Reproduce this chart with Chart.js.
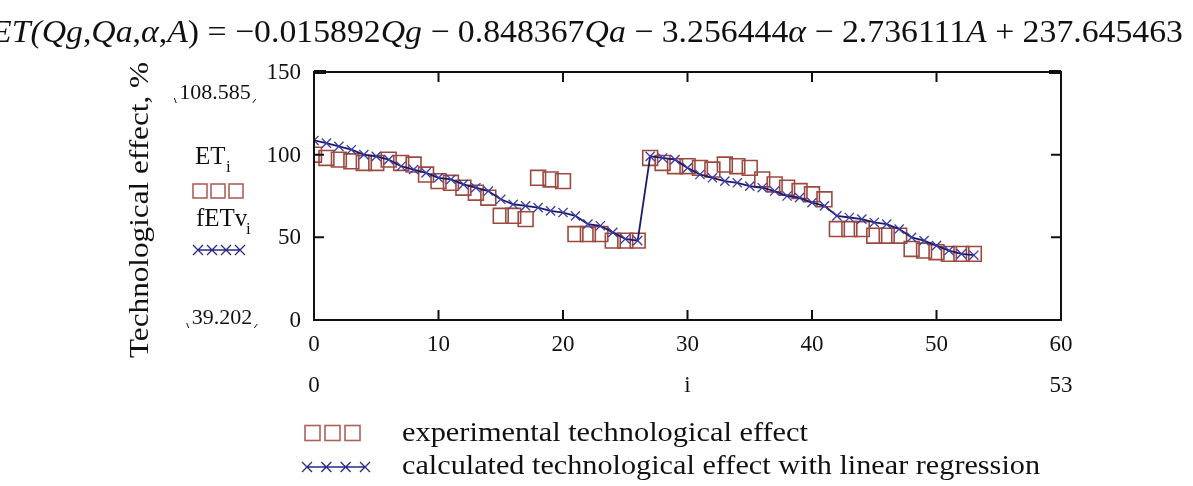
<!DOCTYPE html>
<html>
<head>
<meta charset="utf-8">
<script src="https://cdn.jsdelivr.net/npm/chart.js@4/dist/chart.umd.min.js"></script>
<style>
  html, body { margin: 0; padding: 0; background: #fff; }
  #wrap { position: relative; width: 1193px; height: 486px; }
</style>
</head>
<body>
<div id="wrap"><canvas id="chartET" width="1193" height="486"></canvas></div>
<script>
// index i = 0..53
const idx = [];
for (let i = 0; i <= 53; i++) idx.push(i);

// experimental technological effect (squares)
const etVals = [
  100, 98, 97, 96, 95, 95, 97, 95, 94, 88,
  84, 83, 80, 77, 74, 63, 63, 61, 86, 85,
  84, 52, 52, 52, 48, 48, 48, 98, 95, 93,
  93, 92, 91, 94, 93, 92, 85, 82, 80, 78,
  76, 73, 55, 55, 55, 51, 51, 51, 43, 42,
  41, 40, 40, 40
];

// calculated with linear regression (crosses + line)
const fetVals = [
  108.6, 107, 105, 103, 100, 99, 97, 93, 91, 89,
  86, 85, 82, 80, 78, 73, 70, 69, 68, 66,
  65, 63, 58, 57, 53, 49, 48, 99, 98, 97,
  92, 88, 86, 84, 83, 81, 80, 78, 75, 74,
  71, 69, 63, 62, 61, 59, 58, 55, 50, 48,
  45, 42, 40, 39.2
];

const xTicks = [0, 10, 20, 30, 40, 50, 60];
const yTicks = [0, 50, 100, 150];

const serif = '"Liberation Serif", "DejaVu Serif", serif';

// draw text squeezed/stretched to a given width
const fitText = (ctx, txt, x, y, width) => {
  const w = ctx.measureText(txt).width;
  ctx.save();
  ctx.translate(x, y);
  ctx.scale(width / w, 1);
  ctx.fillText(txt, 0, 0);
  ctx.restore();
};

// tick marks inside the box + all the mathcad-style texts
const decor = {
  id: 'decor',
  afterDraw(chart) {
    const ctx = chart.ctx;
    const xs = chart.scales.x, ys = chart.scales.y;
    const a = chart.chartArea;
    ctx.save();
    ctx.strokeStyle = '#111';
    ctx.lineWidth = 2;
    ctx.strokeRect(a.left, a.top, a.right - a.left, a.bottom - a.top);
    ctx.beginPath();
    xTicks.slice(1, -1).forEach(v => {
      const px = xs.getPixelForValue(v);
      ctx.moveTo(px, a.top); ctx.lineTo(px, a.top + 10);
      ctx.moveTo(px, a.bottom); ctx.lineTo(px, a.bottom - 10);
    });
    yTicks.slice(1, -1).forEach(v => {
      const py = ys.getPixelForValue(v);
      ctx.moveTo(a.left, py); ctx.lineTo(a.left + 10, py);
      ctx.moveTo(a.right, py); ctx.lineTo(a.right - 10, py);
    });
    ctx.stroke();
    ctx.lineWidth = 4;
    ctx.beginPath();
    ctx.moveTo(a.right - 12, a.top); ctx.lineTo(a.right, a.top);
    ctx.moveTo(a.left, a.top); ctx.lineTo(a.left + 12, a.top);
    ctx.stroke();

    ctx.fillStyle = '#111';
    // y tick labels
    ctx.font = '23px ' + serif;
    ctx.textAlign = 'right';
    ctx.textBaseline = 'middle';
    yTicks.forEach(v => ctx.fillText(String(v), 301, ys.getPixelForValue(v) + 1));
    // x tick labels
    ctx.textAlign = 'center';
    xTicks.forEach(v => ctx.fillText(String(v), xs.getPixelForValue(v), 345));
    // second row: range of i
    ctx.fillText('0', xs.getPixelForValue(0), 386);
    ctx.fillText('i', xs.getPixelForValue(30), 386);
    ctx.fillText('53', xs.getPixelForValue(60), 386);

    // y axis title
    ctx.save();
    ctx.translate(141, 210);
    ctx.rotate(-Math.PI / 2);
    ctx.font = '28px ' + serif;
    ctx.textAlign = 'left';
    const yt = 'Technological effect, %';
    fitText(ctx, yt, -148, 0, 296);
    ctx.restore();

    // range labels with corner marks
    ctx.font = '22px ' + serif;
    ctx.textAlign = 'center';
    const rangeLbl = (txt, cx, cy) => {
      ctx.fillText(txt, cx, cy);
      const hw = ctx.measureText(txt).width / 2;
      ctx.lineWidth = 1;
      ctx.beginPath();
      ctx.moveTo(cx - hw - 5, cy + 5); ctx.lineTo(cx - hw - 3, cy + 10);
      ctx.moveTo(cx + hw + 2, cy + 10); ctx.lineTo(cx + hw + 5, cy + 6);
      ctx.stroke();
    };
    rangeLbl('108.585', 215, 93);
    rangeLbl('39.202', 222, 318);

    // left legend
    ctx.textAlign = 'left';
    ctx.font = '25px ' + serif;
    ctx.fillText('ET', 195, 157);
    ctx.font = '17px ' + serif;
    ctx.fillText('i', 226, 168);
    ctx.font = '25px ' + serif;
    ctx.fillText('fETv', 196, 219);
    ctx.font = '17px ' + serif;
    ctx.fillText('i', 246, 230);

    const squares = (x0, cy, n, s, gap) => {
      ctx.strokeStyle = '#b0605a';
      ctx.lineWidth = 1.6;
      for (let k = 0; k < n; k++) ctx.strokeRect(x0 + k * (s + gap), cy - s / 2, s, s);
    };
    const crosses = (x0, x1, cy) => {
      ctx.strokeStyle = '#2a2a8a';
      ctx.lineWidth = 1.3;
      ctx.beginPath();
      ctx.moveTo(x0, cy); ctx.lineTo(x1, cy);
      const n = 4, step = (x1 - x0) / (n - 1);
      for (let k = 0; k < n; k++) {
        const cx = x0 + k * step;
        ctx.moveTo(cx - 5, cy - 5); ctx.lineTo(cx + 5, cy + 5);
        ctx.moveTo(cx - 5, cy + 5); ctx.lineTo(cx + 5, cy - 5);
      }
      ctx.stroke();
    };
    squares(193, 191, 3, 14, 4);
    crosses(198, 240, 250);
    squares(305, 433, 3, 15, 5);
    crosses(307, 365, 467);

    // bottom legend text
    ctx.fillStyle = '#111';
    ctx.font = '27px ' + serif;
    ctx.textBaseline = 'middle';
    fitText(ctx, 'experimental technological effect', 402, 434, 406);
    fitText(ctx, 'calculated technological effect with linear regression', 402, 467, 638);

    // equation header
    const parts = [
      ['ET(', 'i'], ['Qg', 'i'], [',', 'n'], ['Qa', 'i'], [',', 'n'], ['\u03B1', 'i'], [',', 'n'], ['A', 'i'], [')', 'n'],
      [' = \u22120.015892', 'n'], ['Qg', 'i'], [' \u2212 0.848367', 'n'], ['Qa', 'i'],
      [' \u2212 3.256444', 'n'], ['\u03B1', 'i'], [' \u2212 2.736111', 'n'], ['A', 'i'], [' + 237.645463', 'n']
    ];
    const fnt = t => (t === 'i' ? 'italic ' : '') + '32px ' + serif;
    let total = 0;
    parts.forEach(p => { ctx.font = fnt(p[1]); total += ctx.measureText(p[0]).width; });
    ctx.save();
    ctx.translate(-9, 34);
    ctx.scale(1192 / total, 1);
    ctx.textAlign = 'left';
    let xx = 0;
    parts.forEach(p => {
      ctx.font = fnt(p[1]);
      ctx.fillText(p[0], xx, 0);
      xx += ctx.measureText(p[0]).width;
    });
    ctx.restore();
    ctx.restore();
  }
};

const toPts = vals => vals.map((v, k) => ({ x: idx[k], y: v }));

new Chart(document.getElementById('chartET'), {
  type: 'scatter',
  data: {
    datasets: [
      {
        label: 'calculated technological effect with linear regression',
        data: toPts(fetVals),
        showLine: true,
        borderColor: '#1c1c66',
        borderWidth: 1.8,
        pointStyle: 'crossRot',
        pointRadius: 6.5,
        pointBorderColor: '#3b3ba6',
        pointBorderWidth: 1.3,
        tension: 0
      },
      {
        label: 'experimental technological effect',
        data: toPts(etVals),
        showLine: false,
        pointStyle: 'rect',
        pointRadius: 10.5,
        pointBorderColor: '#9c4a40',
        pointBackgroundColor: 'rgba(0,0,0,0)',
        pointBorderWidth: 1.6
      }
    ]
  },
  options: {
    responsive: false,
    animation: false,
    layout: { padding: { left: 314, right: 132, top: 72, bottom: 166 } },
    plugins: { legend: { display: false }, tooltip: { enabled: false } },
    scales: {
      x: {
        type: 'linear', min: 0, max: 60,
        grid: { display: false, drawTicks: false },
        border: { display: false },
        ticks: { display: false }
      },
      y: {
        min: 0, max: 150,
        grid: { display: false, drawTicks: false },
        border: { display: false },
        ticks: { display: false }
      }
    }
  },
  plugins: [decor]
});
</script>
</body>
</html>
